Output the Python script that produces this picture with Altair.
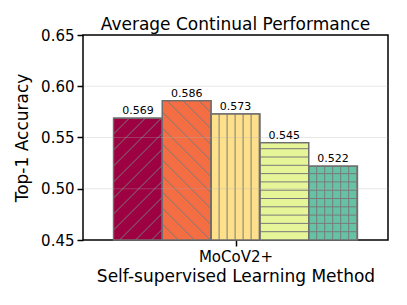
import altair as alt
import pandas as pd
import numpy as np

methods = ["M1", "M2", "M3", "M4", "M5"]
values = [0.569, 0.586, 0.573, 0.545, 0.522]
colors = ["#9e0142", "#f46d43", "#fee08b", "#e6f598", "#66c2a5"]
hatches = ["/", "\\", "|", "-", "+"]
group_label = "MoCoV2+"
y_ticks = [0.45, 0.50, 0.55, 0.60, 0.65]

W, H = 305, 205
XMIN, XMAX = 0.0, 6.25
YMIN, YMAX = 0.45, 0.65
sx = W / (XMAX - XMIN)
sy = H / (YMAX - YMIN)
center = (XMAX + XMIN) / 2

bars = pd.DataFrame({
    "method": methods,
    "value": values,
    "x0": [center - 2.5 + i for i in range(5)],
    "x1": [center - 1.5 + i for i in range(5)],
    "base": [YMIN] * 5,
})
bars["xc"] = (bars["x0"] + bars["x1"]) / 2
bars["label"] = [f"{v:.3f}" for v in values]


def hatch_segments(x0, x1, y0, y1, kind):
    X0, X1, Y0, Y1 = x0 * sx, x1 * sx, (y0 - YMIN) * sy, (y1 - YMIN) * sy
    segs = []
    if kind in ("|", "+"):
        sp = 8.0
        X = X0 + sp
        while X < X1 - 0.5:
            segs.append((X, Y0, X, Y1))
            X += sp
    if kind in ("-", "+"):
        sp = 8.3
        Y = Y0 + sp
        while Y < Y1 - 0.5:
            segs.append((X0, Y, X1, Y))
            Y += sp
    if kind == "/":
        sp = 16.0
        c = X0 - Y1
        while c < X1 - Y0:
            lo = max(Y0, X0 - c)
            hi = min(Y1, X1 - c)
            if hi > lo:
                segs.append((lo + c, lo, hi + c, hi))
            c += sp
    if kind == "\\":
        sp = 16.0
        c = X0 + Y0
        while c < X1 + Y1:
            lo = max(Y0, c - X1)
            hi = min(Y1, c - X0)
            if hi > lo:
                segs.append((c - lo, lo, c - hi, hi))
            c += sp
    return [(a / sx, b / sy + YMIN, c2 / sx, d / sy + YMIN) for a, b, c2, d in segs]


rows = []
for _, r in bars.iterrows():
    h = hatches[methods.index(r["method"])]
    for s in hatch_segments(r["x0"], r["x1"], YMIN, r["value"], h):
        rows.append({"hx": s[0], "hy": s[1], "hx2": s[2], "hy2": s[3]})
hatch_df = pd.DataFrame(rows)

xscale = alt.Scale(domain=[XMIN, XMAX], nice=False, zero=False)
yscale = alt.Scale(domain=[YMIN, YMAX], nice=False, zero=False)

xaxis = alt.Axis(values=[center], labelExpr=f"'{group_label}'", title="Self-supervised Learning Method",
                 grid=False, domain=False, tickColor="black", tickWidth=1.5, tickSize=6,
                 labelFontSize=15, titleFontSize=17, labelColor="black", titleColor="black",
                 titleFontWeight="normal", labelPadding=3, titlePadding=4)
yaxis = alt.Axis(values=y_ticks, format=".2f", title="Top-1 Accuracy", grid=False, domain=False,
                 tickColor="black", tickWidth=1.5, tickSize=6, labelFontSize=15, titleFontSize=17,
                 labelColor="black", titleColor="black", titleFontWeight="normal",
                 labelPadding=3, titlePadding=9)

rects = alt.Chart(bars).mark_rect(stroke="#6e6e6e", strokeWidth=1.2).encode(
    x=alt.X("x0:Q", scale=xscale, axis=xaxis),
    x2="x1",
    y=alt.Y("base:Q", scale=yscale, axis=yaxis),
    y2="value",
    color=alt.Color("method:N", scale=alt.Scale(domain=methods, range=colors), legend=None),
)

hatch = alt.Chart(hatch_df).mark_rule(color="#7a7a7a", strokeWidth=1).encode(
    x=alt.X("hx:Q", scale=xscale, axis=xaxis),
    x2="hx2",
    y=alt.Y("hy:Q", scale=yscale, axis=yaxis),
    y2="hy2",
)

outline = alt.Chart(bars).mark_rect(stroke="#6e6e6e", strokeWidth=1.2, fillOpacity=0).encode(
    x=alt.X("x0:Q", scale=xscale, axis=xaxis),
    x2="x1",
    y=alt.Y("base:Q", scale=yscale, axis=yaxis),
    y2="value",
)

grid_df = pd.DataFrame({"g": y_ticks[1:-1]})
grid = alt.Chart(grid_df).mark_rule(color="#b0b0b0", opacity=0.3, strokeWidth=1.2).encode(
    y=alt.Y("g:Q", scale=yscale, axis=yaxis),
)

labels = alt.Chart(bars).mark_text(fontSize=11, dy=-7, color="black", font="DejaVu Sans").encode(
    x=alt.X("xc:Q", scale=xscale, axis=xaxis),
    y=alt.Y("value:Q", scale=yscale, axis=yaxis),
    text="label:N",
)

chart = alt.layer(rects, hatch, outline, grid, labels).properties(
    width=W, height=H,
    padding={"left": 5, "top": 8, "right": 5, "bottom": 5},
    title=alt.TitleParams("Average Continual Performance", fontSize=17, fontWeight="normal",
                          color="black", offset=-6, font="DejaVu Sans"),
).configure(font="DejaVu Sans").configure_view(stroke="black", strokeWidth=1.5)

chart.save("out.html", embed_options={"renderer": "svg", "actions": False})
